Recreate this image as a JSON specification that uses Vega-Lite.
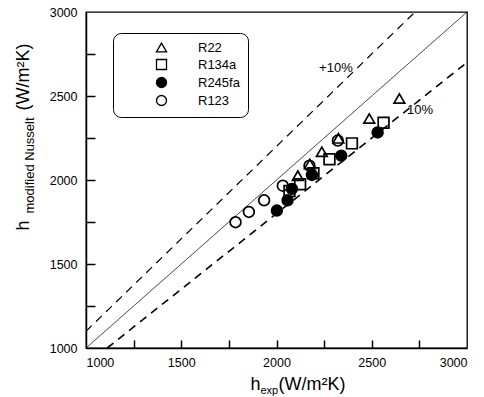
{
  "$schema": "https://vega.github.io/schema/vega-lite/v6.json",
  "width": 381,
  "height": 336,
  "autosize": "none",
  "padding": {"left": 86, "top": 12, "right": 17, "bottom": 49},
  "config": {
    "font": "Liberation Sans",
    "view": {"stroke": "black", "strokeWidth": 1.3},
    "axis": {"grid": false, "labelColor": "black", "tickColor": "black", "domainColor": "black", "titleColor": "black", "titleFontWeight": "normal", "labelFont": "Liberation Sans", "titleFont": "Liberation Sans"},
    "legend": {"title": null, "orient": "none", "legendX": 27, "legendY": 21, "padding": 8, "cornerRadius": 8, "strokeColor": "black", "fillColor": "white", "symbolOffset": 34, "labelOffset": 30, "labelFontSize": 13, "labelColor": "black", "rowPadding": 1, "symbolSize": 100, "symbolStrokeColor": "black", "symbolStrokeWidth": 1.3}
  },
  "datasets": {
    "lines": [
      {"line": "y = x", "x": 1000, "y": 1000},
      {"line": "y = x", "x": 3000, "y": 3000},
      {"line": "+10%", "x": 1000, "y": 1100},
      {"line": "+10%", "x": 2727.3, "y": 3000},
      {"line": "-10%", "x": 1111.1, "y": 1000},
      {"line": "-10%", "x": 3000, "y": 2700}
    ],
    "points": [
      {"refrigerant": "R123", "x": 1785, "y": 1749},
      {"refrigerant": "R123", "x": 1855, "y": 1810},
      {"refrigerant": "R123", "x": 1935, "y": 1879},
      {"refrigerant": "R123", "x": 2033, "y": 1966},
      {"refrigerant": "R123", "x": 2173, "y": 2085},
      {"refrigerant": "R123", "x": 2322, "y": 2235},
      {"refrigerant": "R134a", "x": 2068, "y": 1935},
      {"refrigerant": "R134a", "x": 2124, "y": 1975},
      {"refrigerant": "R134a", "x": 2194, "y": 2040},
      {"refrigerant": "R134a", "x": 2278, "y": 2123},
      {"refrigerant": "R134a", "x": 2396, "y": 2218},
      {"refrigerant": "R134a", "x": 2562, "y": 2341},
      {"refrigerant": "R22", "x": 2112, "y": 2026},
      {"refrigerant": "R22", "x": 2175, "y": 2095},
      {"refrigerant": "R22", "x": 2238, "y": 2168},
      {"refrigerant": "R22", "x": 2325, "y": 2248},
      {"refrigerant": "R22", "x": 2487, "y": 2366},
      {"refrigerant": "R22", "x": 2645, "y": 2485},
      {"refrigerant": "R245fa", "x": 2002, "y": 1818},
      {"refrigerant": "R245fa", "x": 2058, "y": 1879},
      {"refrigerant": "R245fa", "x": 2081, "y": 1947},
      {"refrigerant": "R245fa", "x": 2186, "y": 2030},
      {"refrigerant": "R245fa", "x": 2340, "y": 2145},
      {"refrigerant": "R245fa", "x": 2531, "y": 2283}
    ],
    "labels": [
      {"label": "+10%", "x": 2312, "y": 2667},
      {"label": "10%", "x": 2753, "y": 2417}
    ]
  },
  "layer": [
    {
      "data": {"name": "lines"},
      "mark": {"type": "line", "color": "black"},
      "encoding": {
        "x": {"field": "x", "type": "quantitative", "scale": {"domain": [1000, 3000], "nice": false, "zero": false},
          "axis": {"orient": "bottom", "values": [1000, 1500, 2000, 2500, 3000], "format": "d", "ticks": false, "labelPadding": 8, "labelFontSize": 12.5, "domainWidth": 1.5, "title": "h", "titleX": 164, "titleY": 41, "titleAlign": "left", "titleBaseline": "alphabetic", "titleFontSize": 18}},
        "y": {"field": "y", "type": "quantitative", "scale": {"domain": [1000, 3000], "nice": false, "zero": false},
          "axis": {"orient": "left", "values": [1000, 1500, 2000, 2500, 3000], "format": "d", "ticks": false, "labelPadding": 9, "labelFontSize": 12.5, "domainWidth": 1.5, "title": "h", "titleX": -58, "titleY": 218, "titleAngle": 270, "titleAlign": "left", "titleBaseline": "alphabetic", "titleFontSize": 18}},
        "detail": {"field": "line"},
        "strokeDash": {"field": "line", "scale": {"domain": ["y = x", "+10%", "-10%"], "range": [[1, 0], [8, 6], [8, 6]]}, "legend": null},
        "strokeWidth": {"field": "line", "scale": {"domain": ["y = x", "+10%", "-10%"], "range": [0.8, 1.6, 1.6]}, "legend": null}
      }
    },
    {
      "data": {"name": "points"},
      "mark": {"type": "point", "strokeWidth": 1.7, "size": 115, "opacity": 1},
      "encoding": {
        "x": {"field": "x", "type": "quantitative",
          "axis": {"orient": "top", "offset": -336, "values": [1250, 1500, 1750, 2000, 2250, 2500, 2750], "ticks": true, "tickSize": 8, "tickWidth": 1.5, "tickColor": "black", "labels": false, "domain": false, "title": "exp", "titleX": 174, "titleY": 45, "titleAngle": 0, "titleAlign": "left", "titleBaseline": "alphabetic", "titleFontSize": 11}},
        "y": {"field": "y", "type": "quantitative",
          "axis": {"orient": "right", "offset": -381, "values": [1250, 1500, 1750, 2000, 2250, 2500, 2750], "ticks": true, "tickSize": 9, "tickWidth": 1.5, "tickColor": "black", "labels": false, "domain": false, "title": "modified Nusselt", "titleX": -53, "titleY": 201, "titleAngle": 270, "titleAlign": "left", "titleBaseline": "alphabetic", "titleFontSize": 13}},
        "shape": {"field": "refrigerant", "type": "nominal",
          "scale": {"domain": ["R22", "R134a", "R245fa", "R123"], "range": ["triangle-up", "square", "circle", "circle"]}},
        "fill": {"field": "refrigerant", "type": "nominal",
          "scale": {"domain": ["R22", "R134a", "R245fa", "R123"], "range": ["transparent", "transparent", "black", "transparent"]}},
        "stroke": {"field": "refrigerant", "type": "nominal",
          "scale": {"domain": ["R22", "R134a", "R245fa", "R123"], "range": ["black", "black", "black", "black"]}}
      }
    },
    {
      "data": {"name": "labels"},
      "mark": {"type": "text", "fontSize": 13, "color": "black"},
      "encoding": {
        "x": {"field": "x", "type": "quantitative",
          "axis": {"orient": "bottom", "ticks": false, "labels": false, "domain": false, "title": "(W/m²K)", "titleX": 192, "titleY": 41, "titleAlign": "left", "titleBaseline": "alphabetic", "titleFontSize": 18}},
        "y": {"field": "y", "type": "quantitative",
          "axis": {"orient": "left", "ticks": false, "labels": false, "domain": false, "title": "(W/m²K)", "titleX": -58, "titleY": 98, "titleAngle": 270, "titleAlign": "left", "titleBaseline": "alphabetic", "titleFontSize": 18}},
        "text": {"field": "label"}
      }
    }
  ],
  "resolve": {"axis": {"x": "independent", "y": "independent"}}
}
